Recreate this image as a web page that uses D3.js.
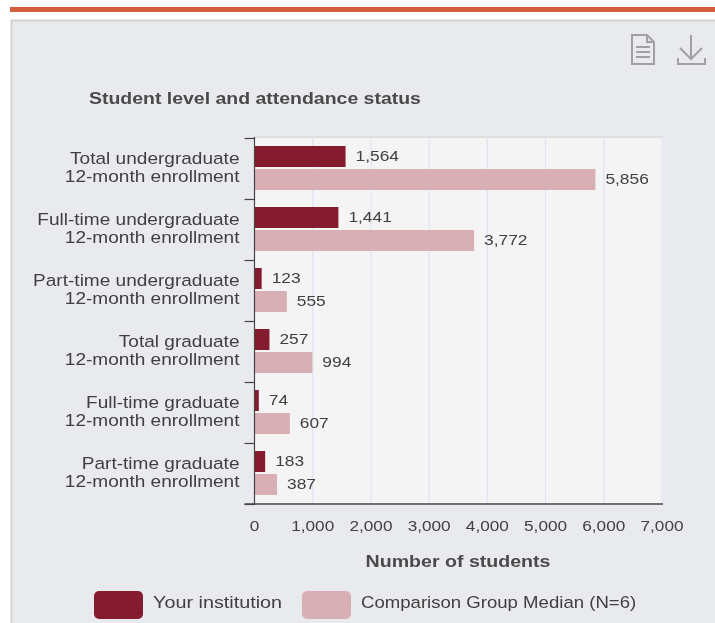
<!DOCTYPE html>
<html><head><meta charset="utf-8">
<script src="https://cdn.jsdelivr.net/npm/d3@7"></script>
<style>
html,body{margin:0;padding:0;background:#fff;overflow:hidden}
svg{display:block;filter:blur(0.5px)}
text{font-family:"Liberation Sans",Arial,sans-serif;fill:#3f3f3f}
</style></head><body><div id="c"></div>
<script>
const categories=[
 ["Total undergraduate","12-month enrollment"],
 ["Full-time undergraduate","12-month enrollment"],
 ["Part-time undergraduate","12-month enrollment"],
 ["Total graduate","12-month enrollment"],
 ["Full-time graduate","12-month enrollment"],
 ["Part-time graduate","12-month enrollment"]];
const institution=[1564,1441,123,257,74,183];
const median=[5856,3772,555,994,607,387];
const xTicks=[0,1000,2000,3000,4000,5000,6000,7000];
const seriesNames=["Your institution","Comparison Group Median (N=6)"];
const colors=["#851b2e","#d7afb5"];

const W=715,H=623,L=254.5,R=662,T=139,B=505;
const svg=d3.select("#c").append("svg").attr("width",W).attr("height",H);
svg.append("rect").attr("x",10).attr("y",7).attr("width",W-10).attr("height",5).attr("fill","#d2603e");
svg.append("rect").attr("x",11.5).attr("y",20.5).attr("width",W).attr("height",H).attr("fill","#e9eaee").attr("stroke","#d4d4d4").attr("stroke-width",2);

const x=d3.scaleLinear().domain([0,7000]).range([L,R]);
const y=d3.scaleBand().domain(d3.range(categories.length)).range([T,B]);
const fmt=d3.format(",");
const place=(px,py,k)=>`translate(${px},${py}) scale(${k},1)`;

svg.append("rect").attr("x",L).attr("y",T-2).attr("width",x(7000)-L+1).attr("height",B-T+2).attr("fill","#f4f4f5");
svg.append("line").attr("x1",L).attr("x2",x(7000)+1).attr("y1",T-2).attr("y2",T-2).attr("stroke","#dfdfdf").attr("stroke-width",2);
svg.selectAll(".g").data(xTicks.slice(1)).join("line")
 .attr("x1",d=>x(d)).attr("x2",d=>x(d)).attr("y1",T-1).attr("y2",B-1).attr("stroke","#dde4f2").attr("stroke-width",1.2);

const offs=[7,30],bh=21;
[institution,median].forEach((vals,s)=>{
 svg.append("g").selectAll("rect").data(vals).join("rect")
  .attr("x",L).attr("y",(d,i)=>y(i)+offs[s]).attr("width",d=>x(d)-L).attr("height",bh).attr("fill",colors[s]);
 svg.append("g").selectAll("text").data(vals).join("text")
  .attr("transform",(d,i)=>place(x(d)+10,y(i)+offs[s]+bh/2+4.5,1.12))
  .attr("font-size",15.5).text(d=>fmt(d));
});

const yAxis=svg.append("g").attr("transform",`translate(${L},0)`);
yAxis.append("line").attr("y1",T-2).attr("y2",B).attr("stroke","#444").attr("stroke-width",1.2);
yAxis.selectAll(".t").data(d3.range(categories.length+1)).join("line")
 .attr("x1",-10).attr("x2",0).attr("y1",i=>T+i*y.step()-0.5).attr("y2",i=>T+i*y.step()-0.5).attr("stroke","#444").attr("stroke-width",1.2);
svg.append("line").attr("x1",L-10).attr("x2",x(7000)+1).attr("y1",B-1).attr("y2",B-1).attr("stroke","#444").attr("stroke-width",1.3);

categories.forEach((d,i)=>d.forEach((ln,k)=>{
 svg.append("text").attr("text-anchor","end").attr("font-size",16.5)
  .attr("transform",place(239.5,y(i)+25+k*18,1.155)).text(ln);
}));

svg.append("g").selectAll("text").data(xTicks).join("text")
 .attr("transform",d=>place(x(d),531,1.11)).attr("text-anchor","middle").attr("font-size",15.5).text(d=>fmt(d));

svg.append("text").attr("transform",place(458,567,1.153)).attr("text-anchor","middle").attr("font-size",17).attr("font-weight","bold").style("fill","#4a4a4a").text("Number of students");
svg.append("text").attr("transform",place(89,104,1.145)).attr("font-size",17).attr("font-weight","bold").style("fill","#4a4a4a").text("Student level and attendance status");

const lx=[94,302],tx=[153,361],legendK=[1.2,1.127];
seriesNames.forEach((n,i)=>{
 svg.append("rect").attr("x",lx[i]).attr("y",591).attr("width",49).attr("height",28).attr("rx",5).attr("fill",colors[i]);
 svg.append("text").attr("transform",place(tx[i],608,legendK[i])).attr("font-size",16.5).text(n);
});

const ic=svg.append("g").attr("fill","none").attr("stroke","#a0a0a0").attr("stroke-width",2);
ic.append("path").attr("d","M632 35H647L654 42V64H632Z M647 35V42H654 M636 47H650 M636 52H650 M636 57H650");
ic.append("path").attr("d","M691 35V59 M680 48L691 59L702 48 M678 58V64H705V58");
</script></body></html>
